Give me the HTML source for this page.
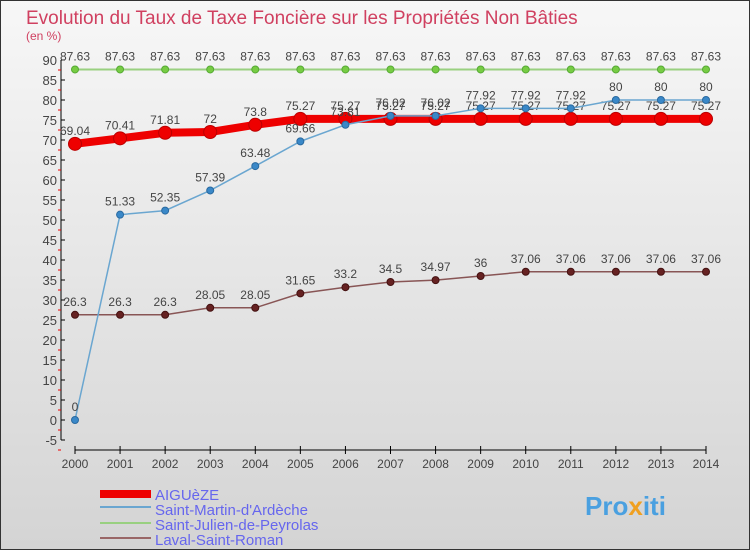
<!DOCTYPE html>
<html><head><meta charset="utf-8"><style>
body{margin:0;}
#c{width:750px;height:550px;position:relative;overflow:hidden;font-family:"Liberation Sans",sans-serif;}
</style></head><body>
<div id="c">
<svg id="s" width="750" height="550" xmlns="http://www.w3.org/2000/svg" font-family="Liberation Sans, sans-serif">
<defs><linearGradient id="bg" x1="0" y1="0" x2="0" y2="1"><stop offset="0" stop-color="#f7f7f7"/><stop offset="1" stop-color="#d4d4d4"/></linearGradient></defs>
<rect x="0.5" y="0.5" width="749" height="549" fill="url(#bg)" stroke="#333"/>
<text x="26" y="24" font-size="19" fill="#d04060">Evolution du Taux de Taxe Foncière sur les Propriétés Non Bâties</text>
<text x="26" y="40" font-size="12" fill="#d04060">(en %)</text>
<g id="axes"></g><g id="series"></g>
<g>
<rect x="100" y="490" width="51" height="8" fill="#ee0000"/>
<text x="155" y="500" font-size="15" fill="#6666ee">AIGUèZE</text>
<line x1="100" y1="507" x2="151" y2="507" stroke="#6aa6d0" stroke-width="2"/>
<text x="155" y="515" font-size="15" fill="#6666ee">Saint-Martin-d'Ardèche</text>
<line x1="100" y1="523" x2="151" y2="523" stroke="#99d080" stroke-width="2"/>
<text x="155" y="530" font-size="15" fill="#6666ee">Saint-Julien-de-Peyrolas</text>
<line x1="100" y1="538" x2="151" y2="538" stroke="#966" stroke-width="2"/>
<text x="155" y="545" font-size="15" fill="#6666ee">Laval-Saint-Roman</text>
</g>
<text x="585" y="515" font-size="26" font-weight="bold" fill="#4aa0e0">Pro<tspan fill="#f0a020">x</tspan>iti</text>
</svg></div>
<script>
const years=[2000,2001,2002,2003,2004,2005,2006,2007,2008,2009,2010,2011,2012,2013,2014];
const aiguez=[69.04,70.41,71.81,72,73.8,75.27,75.27,75.27,75.27,75.27,75.27,75.27,75.27,75.27,75.27];
const stMartin=[0,51.33,52.35,57.39,63.48,69.66,73.81,76.02,76.02,77.92,77.92,77.92,80,80,80];
const stJulien=[87.63,87.63,87.63,87.63,87.63,87.63,87.63,87.63,87.63,87.63,87.63,87.63,87.63,87.63,87.63];
const laval=[26.3,26.3,26.3,28.05,28.05,31.65,33.2,34.5,34.97,36,37.06,37.06,37.06,37.06,37.06];
const yTicks=[-5,0,5,10,15,20,25,30,35,40,45,50,55,60,65,70,75,80,85,90];
const NS="http://www.w3.org/2000/svg";
const X=i=>75+i*(631/14), Y=v=>60+(90-v)*4;
function mk(t,a,p){const e=document.createElementNS(NS,t);for(const k in a)e.setAttribute(k,a[k]);p.appendChild(e);return e;}
const ax=document.getElementById('axes'), sg=document.getElementById('series');
let l=mk('line',{x1:61,y1:Y(90),x2:61,y2:Y(-5),stroke:'#000'},ax);


yTicks.forEach(v=>{
 mk('line',{x1:61,y1:Y(v),x2:65,y2:Y(v),stroke:'#000'},ax);
 mk('line',{x1:58,y1:Y(v)+10,x2:61,y2:Y(v)+10,stroke:'#e00'},ax);
 const t=mk('text',{x:57,y:Y(v)+5,'font-size':13,fill:'#444','text-anchor':'end'},ax);t.textContent=v;
 
 
});
l=mk('line',{x1:X(0),y1:450,x2:X(14),y2:450,stroke:'#000'},ax);


years.forEach((y,i)=>{
 mk('line',{x1:X(i),y1:446,x2:X(i),y2:454,stroke:'#000'},ax);
 const t=mk('text',{x:X(i),y:468,'font-size':12,fill:'#444','text-anchor':'middle'},ax);t.textContent=y;
 
 
});
function series(vals,name,color,w,r,dot,dotStroke){
 const g=mk('g',{},sg);
 
 
 mk('polyline',{points:vals.map((v,i)=>X(i)+','+Y(v)).join(' '),fill:'none',stroke:color,'stroke-width':w},g);
 vals.forEach((v,i)=>{
  const c=mk('circle',{cx:X(i),cy:Y(v),r:r,fill:dot,stroke:dotStroke},g);
  
  
  const t=mk('text',{x:X(i),y:Y(v)-9,'font-size':12,fill:'#444','text-anchor':'middle'},g);t.textContent=v;
  
  
 });
}
series(stJulien,'saint-julien-line','#99d080',2,3.5,'#7c4','#5a3');
series(laval,'laval-line','#855',1.5,3.5,'#622','#411');
series(aiguez,'aiguez-line','#ee0000',8,6.5,'#e00','#b00');
series(stMartin,'saint-martin-line','#6aa6d0',1.5,3.5,'#3a88c8','#2a6aa0');
</script>
</body></html>
